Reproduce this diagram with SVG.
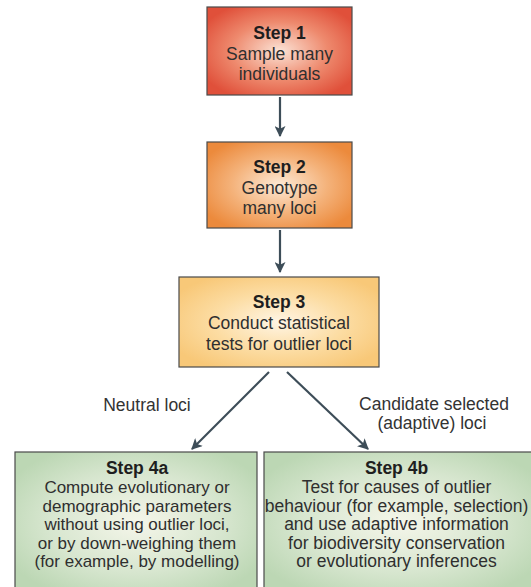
<svg xmlns="http://www.w3.org/2000/svg" width="531" height="587" viewBox="0 0 531 587">
<defs>
<radialGradient id="g1" cx="0.5" cy="0.5" r="0.6"><stop offset="0" stop-color="#fbe3d6"/><stop offset="0.55" stop-color="#ee8a6e"/><stop offset="1" stop-color="#e0503a"/></radialGradient>
<radialGradient id="g2" cx="0.5" cy="0.5" r="0.6"><stop offset="0" stop-color="#fde9d6"/><stop offset="0.55" stop-color="#f4b27a"/><stop offset="1" stop-color="#ec8a3c"/></radialGradient>
<radialGradient id="g3" cx="0.5" cy="0.5" r="0.6"><stop offset="0" stop-color="#fff5e4"/><stop offset="0.55" stop-color="#fcdca2"/><stop offset="1" stop-color="#f8c878"/></radialGradient>
<radialGradient id="g4" cx="0.5" cy="0.5" r="0.6"><stop offset="0" stop-color="#f5f6ea"/><stop offset="0.6" stop-color="#d7e6cf"/><stop offset="1" stop-color="#bcd7b4"/></radialGradient>
<marker id="ah" viewBox="0 0 10 10" refX="9" refY="5" markerWidth="5" markerHeight="5" orient="auto" markerUnits="strokeWidth"><path d="M0,0 L10,5 L0,10 L2.5,5 Z" fill="#3d4d58"/></marker>
<style>
.box{stroke:#4a4a4a;stroke-width:1.2}
text{font-family:"Liberation Sans",Arial,sans-serif;font-size:17.5px;fill:#2f2f2f;text-anchor:middle}
.b{font-weight:bold;fill:#1e1e1e}
.s{font-size:17px}
.lbl{font-size:17.5px;fill:#333}
.c{stroke:#3d4d58;stroke-width:2.2;fill:none;marker-end:url(#ah)}
</style>
</defs>
<rect width="531" height="587" fill="#ffffff"/>
<g id="connectors">
<line class="c" x1="280" y1="97" x2="280" y2="136"/>
<line class="c" x1="280" y1="230" x2="280" y2="272"/>
<line class="c" x1="269" y1="372" x2="192" y2="449"/>
<line class="c" x1="287" y1="372" x2="368" y2="449"/>
</g>
<g id="step1">
<rect class="box" x="207" y="7" width="145" height="88" fill="url(#g1)"/>
<text x="279.5" y="39" class="b">Step 1</text>
<text x="279.5" y="59.5">Sample many</text>
<text x="279.5" y="80">individuals</text>
</g>
<g id="step2">
<rect class="box" x="207" y="142" width="145" height="86" fill="url(#g2)"/>
<text x="279.5" y="173" class="b">Step 2</text>
<text x="279.5" y="193.5">Genotype</text>
<text x="279.5" y="214">many loci</text>
</g>
<g id="step3">
<rect class="box" x="179" y="277" width="200" height="90" fill="url(#g3)"/>
<text x="279" y="308" class="b">Step 3</text>
<text x="279" y="329">Conduct statistical</text>
<text x="279" y="350">tests for outlier loci</text>
</g>
<g id="label-neutral"><text class="lbl" x="147" y="411">Neutral loci</text></g>
<g id="label-candidate">
<text class="lbl" x="434" y="410">Candidate selected</text>
<text class="lbl" x="432" y="429">(adaptive) loci</text>
</g>
<g id="step4a">
<rect class="box" x="15" y="452" width="242" height="140" fill="url(#g4)"/>
<text x="137" y="474" class="b">Step 4a</text>
<text class="s" x="137" y="493">Compute evolutionary or</text>
<text class="s" x="137" y="511.5">demographic parameters</text>
<text class="s" x="137" y="530">without using outlier loci,</text>
<text class="s" x="137" y="548.5">or by down-weighing them</text>
<text class="s" x="137" y="567">(for example, by modelling)</text>
</g>
<g id="step4b">
<rect class="box" x="264" y="452" width="272" height="140" fill="url(#g4)"/>
<text x="396.5" y="474" class="b">Step 4b</text>
<text x="396.5" y="493">Test for causes of outlier</text>
<text x="396.5" y="511.5">behaviour (for example, selection)</text>
<text x="396.5" y="530">and use adaptive information</text>
<text x="396.5" y="548.5">for biodiversity conservation</text>
<text x="396.5" y="567">or evolutionary inferences</text>
</g>
</svg>
